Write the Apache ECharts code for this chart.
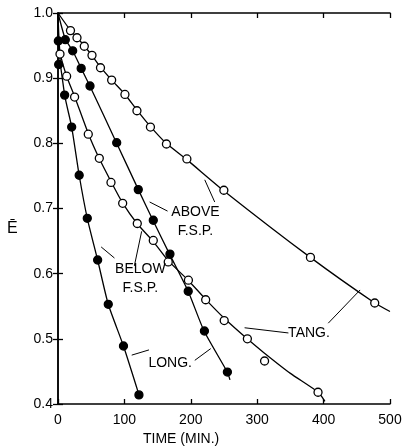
<!DOCTYPE html>
<html>
<head>
<meta charset="utf-8">
<script src="https://cdn.jsdelivr.net/npm/echarts@6/dist/echarts.min.js"></script>
<style>
  html, body { margin: 0; padding: 0; background: #fff; }
  #chart { width: 405px; height: 448px; }
</style>
</head>
<body>
<div id="chart"></div>
<script>
// 测量点 [time(min), E]
const longBelowPts = [[0.5, 0.957], [1, 0.921], [10, 0.874], [20.6, 0.825], [31.9, 0.751], [44.1, 0.685], [59.7, 0.621], [75.7, 0.553], [98.6, 0.489], [121.9, 0.414]];
const tangBelowPts = [[3, 0.937], [13, 0.903], [25, 0.871], [45.6, 0.814], [62.2, 0.777], [79.8, 0.740], [97.4, 0.708], [119.4, 0.677], [143.5, 0.651], [166, 0.618], [196.4, 0.590], [222.4, 0.560], [250.3, 0.528], [285.2, 0.500], [311.1, 0.466], [391.6, 0.418]];
const longAbovePts = [[11, 0.959], [22.1, 0.942], [34.9, 0.915], [48.2, 0.888], [88.4, 0.801], [120.9, 0.729], [143.5, 0.682], [168.6, 0.630], [196.1, 0.573], [220.5, 0.512], [255.1, 0.449]];
const tangAbovePts = [[18.8, 0.973], [28.6, 0.962], [39.6, 0.949], [51.2, 0.935], [64, 0.916], [80.8, 0.897], [100.8, 0.875], [118.9, 0.850], [139.2, 0.825], [163.3, 0.799], [194.1, 0.776], [249.8, 0.728], [380.2, 0.625], [477, 0.555]];

// 手绘拟合曲线
const longBelowFit = [[0, 1.0], [1, 0.95], [10, 0.874], [20.6, 0.825], [31.9, 0.751], [44.1, 0.685], [59.7, 0.621], [75.7, 0.553], [98.6, 0.489], [122, 0.414]];
const tangBelowFit = [[0, 1.0], [3, 0.94], [13, 0.903], [25, 0.872], [46, 0.814], [62, 0.777], [80, 0.741], [97, 0.709], [119, 0.677], [143, 0.650], [166, 0.620], [196, 0.590], [222, 0.561], [250, 0.532], [285, 0.500], [311, 0.478], [350, 0.447], [392, 0.418], [402, 0.404]];
const longAboveFit = [[0, 1.0], [11, 0.96], [22, 0.942], [35, 0.915], [48, 0.888], [88, 0.801], [121, 0.729], [143, 0.682], [168, 0.630], [196, 0.573], [220, 0.512], [255, 0.449], [259, 0.437]];
const tangAboveFit = [[0, 1.0], [19, 0.973], [29, 0.962], [40, 0.949], [51, 0.935], [64, 0.917], [81, 0.897], [101, 0.875], [119, 0.851], [139, 0.826], [163, 0.800], [194, 0.775], [250, 0.727], [380, 0.625], [477, 0.555], [500, 0.542]];

// 标注文字 & 引线
const noteTexts = [
  { name: 'ABOVE\nF.S.P.', value: [207, 0.680] },
  { name: 'BELOW\nF.S.P.', value: [124, 0.592] },
  { name: 'LONG.', value: [169, 0.462] },
  { name: 'TANG.', value: [378, 0.509] }
];
const leaderLines = [
  [[138, 0.710], [165, 0.696]], [[221, 0.744], [236, 0.710]],
  [[65, 0.641], [85, 0.624]], [[115, 0.612], [126, 0.665]],
  [[111, 0.475], [137, 0.483]], [[206, 0.467], [230, 0.485]],
  [[281, 0.517], [347, 0.509]], [[407, 0.524], [455, 0.575]]
];

const xTicks = { min: 0, max: 500, interval: 100 };
const yTicks = { min: 0.4, max: 1.0, interval: 0.1 };

const FONT = 'Liberation Sans';
const INK = '#000';
const chart = echarts.init(document.getElementById('chart'));

function fitLine(data) {
  return {
    type: 'line', data: data, symbol: 'none', smooth: 0.2, z: 2,
    lineStyle: { color: INK, width: 1.3 }, silent: true
  };
}
// scatter 默认 opacity 0.8，这里要纯黑
function dots(data, filled) {
  return {
    type: 'scatter', data: data, symbol: 'circle', symbolSize: 8, z: 4,
    itemStyle: { color: filled ? INK : '#fff', borderColor: INK, borderWidth: 1.3, opacity: 1 }
  };
}

const baseAxis = {
  axisLine: { show: true, lineStyle: { color: INK, width: 1.5 } },
  axisTick: { show: true, inside: true, length: 5, lineStyle: { color: INK, width: 1.3 } },
  splitLine: { show: false }
};

const option = {
  backgroundColor: '#fff',
  animation: false,
  grid: { left: 58, right: 15, top: 13, bottom: 44, containLabel: false },
  xAxis: [
    Object.assign({}, baseAxis, {
      type: 'value', position: 'bottom', ...xTicks,
      axisLabel: { color: INK, fontSize: 14, fontFamily: FONT, margin: 9 }
    }),
    Object.assign({}, baseAxis, {
      type: 'value', position: 'top', ...xTicks, axisLabel: { show: false }
    })
  ],
  yAxis: [
    Object.assign({}, baseAxis, {
      type: 'value', position: 'left', ...yTicks,
      axisLabel: { color: INK, fontSize: 14, fontFamily: FONT, margin: 5, formatter: v => v.toFixed(1) }
    }),
    Object.assign({}, baseAxis, {
      type: 'value', position: 'right', ...yTicks, axisLabel: { show: false }
    })
  ],
  graphic: [
    { type: 'text', left: 143, top: 432, style: { text: 'TIME (MIN.)', fontSize: 14, fontFamily: FONT, fill: INK } },
    { type: 'text', left: 7, top: 221, style: { text: 'Ē', fontSize: 16, fontFamily: FONT, fill: INK } }
  ],
  series: [
    fitLine(longBelowFit), fitLine(tangBelowFit), fitLine(longAboveFit), fitLine(tangAboveFit),
    dots(longBelowPts, true), dots(tangBelowPts, false), dots(longAbovePts, true), dots(tangAbovePts, false),
    {
      type: 'lines', coordinateSystem: 'cartesian2d', silent: true, z: 3,
      data: leaderLines.map(c => ({ coords: c })),
      lineStyle: { color: INK, width: 1, opacity: 1 }
    },
    {
      type: 'scatter', data: noteTexts, symbolSize: 1, silent: true, z: 5,
      itemStyle: { color: 'transparent', opacity: 1 },
      label: {
        show: true, position: 'inside', formatter: p => p.name,
        color: INK, textBorderWidth: 0, fontSize: 14, fontFamily: FONT, lineHeight: 19, align: 'center'
      }
    }
  ]
};

chart.setOption(option);
</script>
</body>
</html>
